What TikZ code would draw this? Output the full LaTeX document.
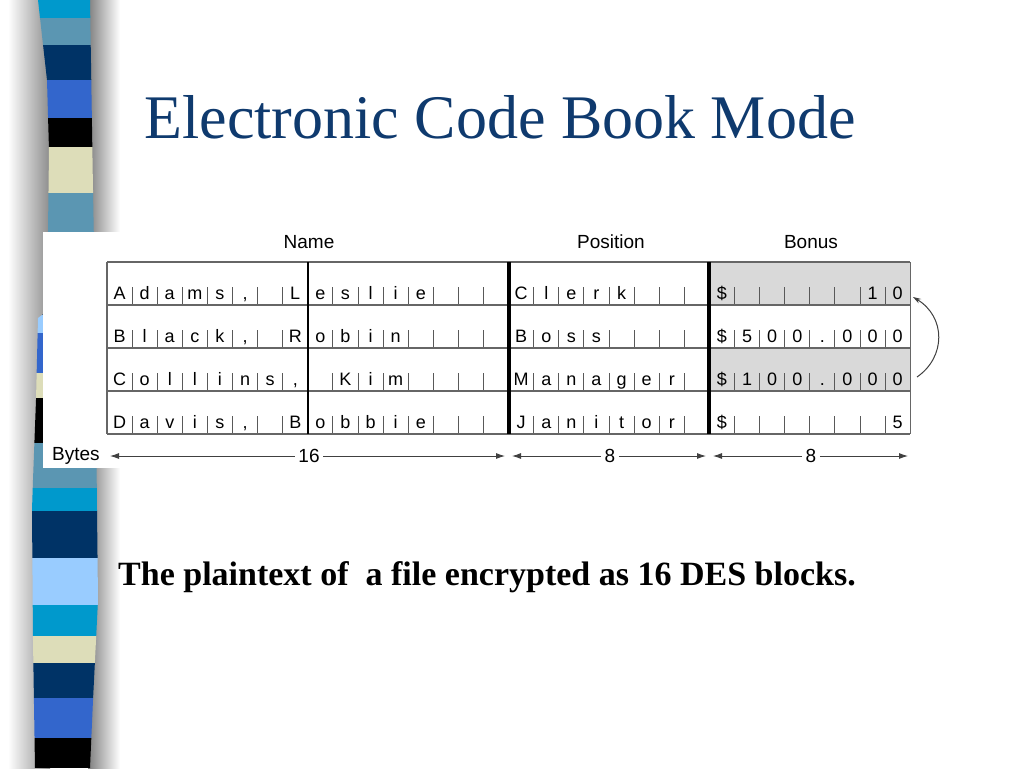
\documentclass[tikz,border=0pt]{standalone}
\usepackage{fontspec}
\setmainfont{Liberation Serif}
\setsansfont{Liberation Sans}
\usetikzlibrary{arrows.meta}
\definecolor{titleblue}{HTML}{0F3A6E}
\definecolor{barcyan}{HTML}{0099CC}
\definecolor{barsteel}{HTML}{5B96B2}
\definecolor{barnavy}{HTML}{003366}
\definecolor{barroyal}{HTML}{3366CC}
\definecolor{barbeige}{HTML}{DDDDB9}
\definecolor{barlight}{HTML}{99CCFF}
\definecolor{cellgray}{HTML}{D9D9D9}
\tikzset{
  cell/.style={font=\sffamily\fontsize{18}{18}\selectfont, anchor=base, inner sep=0pt},
  head/.style={font=\sffamily\fontsize{19}{19}\selectfont},
  tick/.style={line width=1pt, black!65},
  rule/.style={line width=1.2pt, black!60},
  bytearrow/.style={-{Latex[length=9pt,width=6pt]}, line width=0.9pt, black!75},
  curvearrow/.style={-{Stealth[length=8pt,width=5pt]}, line width=1pt, black!75}
}
\begin{document}
\begin{tikzpicture}[x=1pt,y=-1pt]
\useasboundingbox (0,0) rectangle (1024,768);
\fill[white] (0,0) rectangle (1024,768);
% striped bar on the left
\shade[left color=white, right color=black!45] (8,0) rectangle (50,768);
\shade[left color=black!50, right color=white] (88,0) rectangle (120,768);
\begin{scope}
\clip (38,0) -- (47,80) -- (49,150) -- (48,232) -- (46,312) -- (38,318) -- (36,400) -- (33,480)
  -- (32,510) -- (33,640) -- (35,768) -- (90,768) -- (93,700) -- (98,600) -- (97,510)
  -- (95,300) -- (93,190) -- (90,0) -- cycle;
\foreach \ya/\yb/\col in {0/18/barcyan, 18/45/barsteel, 45/80/barnavy, 80/118/barroyal,
    118/147/black, 147/193/barbeige, 193/260/barsteel, 260/290/barcyan, 290/315/barnavy,
    315/333/barlight, 333/373/barroyal, 373/398/barbeige, 398/443/black, 443/488/barsteel,
    488/511/barcyan, 511/558/barnavy, 558/605/barlight, 605/636/barcyan, 636/663/barbeige,
    663/698/barnavy, 698/738/barroyal, 738/768/black}
  \fill[\col] (20,\ya) rectangle (110,\yb);
\end{scope}
% title and caption
\node[font=\fontsize{62}{62}\selectfont, text=titleblue, anchor=base] (title) at (500,138) {Electronic Code Book Mode};
\node[font=\bfseries\fontsize{34}{34}\selectfont, anchor=base] (caption) at (487,585) {The plaintext of~ a file encrypted as 16 DES blocks.};
% the record table
\fill[white] (43,232) rectangle (960,468);
\def\bw{25.1}
\fill[cellgray] (709.4,262) rectangle (910.2,305);
\fill[cellgray] (709.4,348) rectangle (910.2,391);
\foreach \y in {305,348,391,434}
  \foreach \g in {0,8,16,24}
    \foreach \j in {1,...,7}
      \draw[tick] ({107+\bw*(\g+\j)},\y) -- ++(0,-18);
\foreach \y in {262,305,348,391,434}
  \draw[rule] (107,\y) -- (910.2,\y);
\draw[rule] (107,262) -- (107,434);
\draw[rule] (910.2,262) -- (910.2,434);
\draw[line width=1.6pt] (307.8,262) -- (307.8,434);
\draw[line width=4pt] (508.6,262) -- (508.6,434);
\draw[line width=4pt] (709.4,262) -- (709.4,434);
\foreach \k/\ch in {0/A,1/d,2/a,3/m,4/s,5/{,},7/L,8/e,9/s,10/l,11/i,12/e,16/C,17/l,18/e,19/r,20/k,24/\$,30/1,31/0}
  \node[cell] (r1c\k) at ({107+\bw*\k+\bw/2},299) {\ch};
\foreach \k/\ch in {0/B,1/l,2/a,3/c,4/k,5/{,},7/R,8/o,9/b,10/i,11/n,16/B,17/o,18/s,19/s,24/\$,25/5,26/0,27/0,28/.,29/0,30/0,31/0}
  \node[cell] (r2c\k) at ({107+\bw*\k+\bw/2},342) {\ch};
\foreach \k/\ch in {0/C,1/o,2/l,3/l,4/i,5/n,6/s,7/{,},9/K,10/i,11/m,16/M,17/a,18/n,19/a,20/g,21/e,22/r,24/\$,25/1,26/0,27/0,28/.,29/0,30/0,31/0}
  \node[cell] (r3c\k) at ({107+\bw*\k+\bw/2},385) {\ch};
\foreach \k/\ch in {0/D,1/a,2/v,3/i,4/s,5/{,},7/B,8/o,9/b,10/b,11/i,12/e,16/J,17/a,18/n,19/i,20/t,21/o,22/r,24/\$,31/5}
  \node[cell] (r4c\k) at ({107+\bw*\k+\bw/2},428) {\ch};
\node[head] (name) at (309,242) {Name};
\node[head] (position) at (611,242) {Position};
\node[head] (bonus) at (811,242) {Bonus};
% widths in bytes
\node[head, anchor=west, inner sep=0pt] (bytes) at (52,456) {Bytes};
\node[head] (w16) at (309,456) {16};
\node[head] (w8a) at (610,456) {8};
\node[head] (w8b) at (811,456) {8};
\coordinate (s1) at (110,456);
\coordinate (e1) at (505,456);
\coordinate (s2) at (512,456);
\coordinate (e2) at (706,456);
\coordinate (s3) at (713,456);
\coordinate (e3) at (908,456);
\draw[bytearrow] (w16) -- (s1);
\draw[bytearrow] (w16) -- (e1);
\draw[bytearrow] (w8a) -- (s2);
\draw[bytearrow] (w8a) -- (e2);
\draw[bytearrow] (w8b) -- (s3);
\draw[bytearrow] (w8b) -- (e3);
% copied block
\coordinate (mgr) at (917,377);
\coordinate (clk) at (913,297);
\draw[curvearrow] (mgr) .. controls (946,357) and (946,317) .. (clk);
\end{tikzpicture}
\end{document}
